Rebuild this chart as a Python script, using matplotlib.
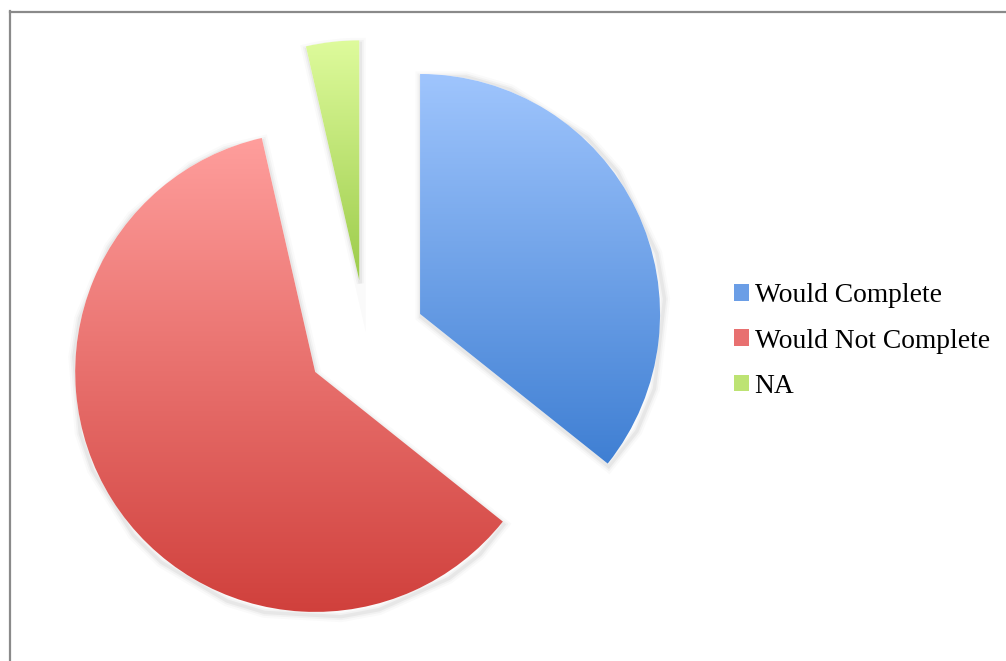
import numpy as np
import matplotlib.pyplot as plt
from matplotlib.patches import Patch
from matplotlib.lines import Line2D
from matplotlib.colors import LinearSegmentedColormap

labels = ["Would Complete", "Would Not Complete", "NA"]
counts = [10, 17, 1]
# top / bottom colours of each slice's vertical gradient
top_colors = ["#9fc5fd", "#ff9e9c", "#defb9c"]
bottom_colors = ["#3f7fd3", "#d0403c", "#9ccb4a"]
legend_colors = ["#6b9ee6", "#e87070", "#bde373"]

W, H = 1006, 661
fig = plt.figure(figsize=(W / 100, H / 100), dpi=100)
ax = fig.add_axes([0, 0, 1, 1])

R_PX = 240.0
cx, cy = 366.0, 340.0

wedges, _ = ax.pie(counts, startangle=90, counterclock=False,
                   explode=[0.25] * 3, radius=1.0, center=(0, 0))

ax.set_aspect("auto")
ax.axis("off")

for w, c0, c1 in zip(wedges, top_colors, bottom_colors):
    path = w.get_path()
    verts = w.get_patch_transform().transform(path.vertices)
    x0, x1 = verts[:, 0].min(), verts[:, 0].max()
    y0, y1 = verts[:, 1].min(), verts[:, 1].max()

    # soft drop shadow, a little down and to the right
    for lw, a in [(8, 0.02), (5, 0.03), (2.5, 0.045)]:
        sh = plt.Polygon(verts + [0.004, -0.0125], closed=True, facecolor="none",
                         edgecolor="black", linewidth=lw, alpha=a, zorder=1)
        ax.add_patch(sh)

    w.set_facecolor("white")
    w.set_edgecolor("none")
    w.set_zorder(2)

    cmap = LinearSegmentedColormap.from_list("g", [c1, c0])
    grad = np.linspace(0, 1, 256).reshape(-1, 1)
    im = ax.imshow(grad, cmap=cmap, origin="lower", aspect="auto",
                   extent=[x0, x1, y0, y1], zorder=3, interpolation="bilinear")
    im.set_clip_path(w)

ax.set_xlim(-cx / R_PX, (W - cx) / R_PX)
ax.set_ylim(-(H - cy) / R_PX, cy / R_PX)

handles = [Patch(facecolor=c, edgecolor="none") for c in legend_colors]
leg = ax.legend(handles, labels, loc="center left",
                bbox_to_anchor=(734 / W, 1 - 341 / H),
                bbox_transform=fig.transFigure, frameon=False,
                prop={"family": "Liberation Serif", "size": 19.8},
                handlelength=0.55, handleheight=0.55, handletextpad=0.2,
                labelspacing=0.74, borderpad=0, borderaxespad=0)

# outer frame (left and top edges)
fig.add_artist(Line2D([9.5 / W, 9.5 / W], [0, 1 - 11 / H], transform=fig.transFigure,
                      color="#8a8a8a", linewidth=1.6))
fig.add_artist(Line2D([9.5 / W, 1], [1 - 11.5 / H, 1 - 11.5 / H], transform=fig.transFigure,
                      color="#8a8a8a", linewidth=1.6))

fig.savefig("out.png", dpi=100)
